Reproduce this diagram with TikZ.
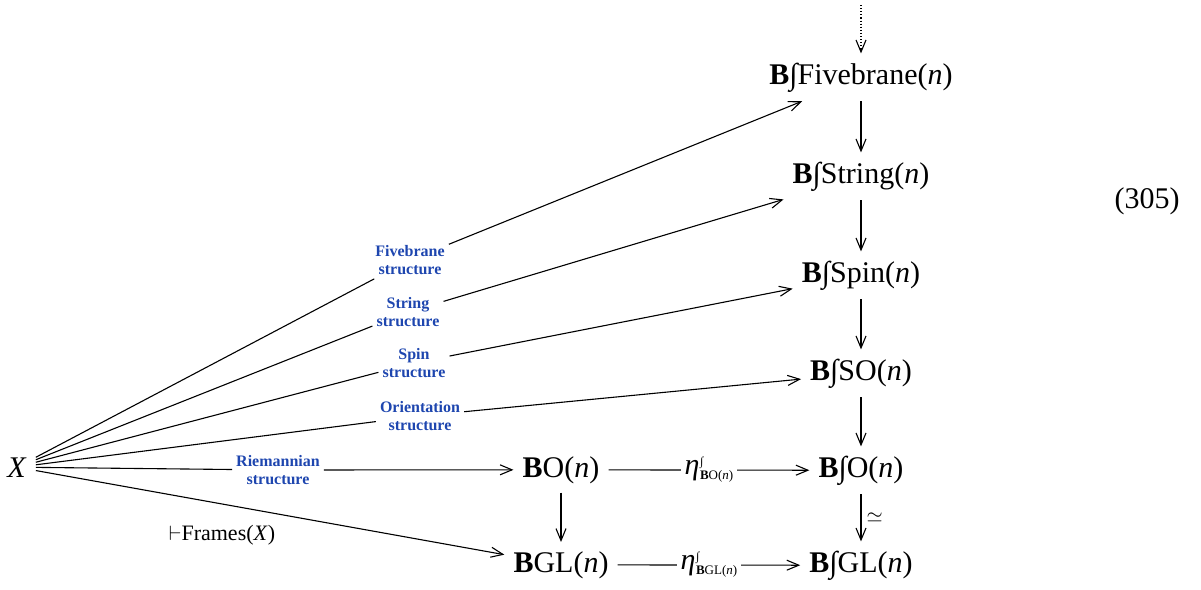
\documentclass[tikz,border=0pt]{standalone}
\usepackage{fontspec}
\setmainfont{Liberation Serif}
\usetikzlibrary{arrows.meta}
\definecolor{labblue}{RGB}{30,70,175}
\newcommand{\Bint}{\textbf{B}∫}
\newcommand{\etalab}[1]{{\fontsize{30}{34}\selectfont\textit{η}}\kern0.5pt\makebox[0pt][l]{\raisebox{9pt}{\fontsize{12}{14}\selectfont ∫}}\raisebox{-5pt}{\fontsize{13}{15}\selectfont #1}}
\tikzset{
  obj/.style={font=\fontsize{30}{36}\selectfont, inner sep=9pt, anchor=base},
  lab/.style={font=\fontsize{16}{18}\selectfont\bfseries, text=labblue, align=center, inner sep=4pt},
  arr/.style={-{Straight Barb[length=12pt,width=10pt]}, line width=1.1pt},
  seg/.style={line width=1.1pt},
  desc/.style={fill=white, inner sep=4pt},
  elab/.style={font=\fontsize{22}{26}\selectfont, inner sep=2pt},
}
\begin{document}
\begin{tikzpicture}[x=1pt,y=-1pt]
\useasboundingbox (0,0) rectangle (1201,589);
% objects
\node[obj] (F5) at (861,84) {\Bint Fivebrane(\textit{n})};
\node[obj] (St) at (861,183) {\Bint String(\textit{n})};
\node[obj] (Sp) at (861,282) {\Bint Spin(\textit{n})};
\node[obj] (SO) at (861,380) {\Bint SO(\textit{n})};
\node[obj] (BiO) at (861,477) {\Bint O(\textit{n})};
\node[obj] (BiGL) at (861,572) {\Bint GL(\textit{n})};
\node[obj] (BO) at (561,477) {\textbf{B}O(\textit{n})};
\node[obj] (BGL) at (561,572) {\textbf{B}GL(\textit{n})};
\node[obj] (X) at (17,477) {\textit{X}};
\node[obj, inner sep=0pt] (eq) at (1147,208) {(305)};
% labels
\node[lab] (L5) at (410,260) {Fivebrane\\structure};
\node[lab] (LS) at (408,312) {String\\structure};
\node[lab] (LSp) at (414,363) {Spin\\structure};
\node[lab] (LO) at (420,416) {Orientation\\structure};
\node[lab] (LR) at (278,470) {Riemannian\\structure};
\node[elab] (Fr) at (222,535) {$\vdash$Frames(\textit{X})};
\coordinate (top) at (861,5);
% vertical tower
\draw[arr, dotted] (top) -- (F5);
\draw[arr] (F5) -- (St);
\draw[arr] (St) -- (Sp);
\draw[arr] (Sp) -- (SO);
\draw[arr] (SO) -- (BiO);
\draw[arr] (BiO) -- node[right, font=\fontsize{20}{24}\selectfont, inner sep=5pt] {$\simeq$} (BiGL);
\draw[arr] (BO) -- (BGL);
% horizontal
\draw[arr] (BO) -- node[desc] {\etalab{\textbf{B}O(\textit{n})}} (BiO);
\draw[arr] (BGL) -- node[desc] {\etalab{\textbf{B}GL(\textit{n})}} (BiGL);
% fan from X
\draw[seg] (X) -- (L5);
\draw[arr] (L5) -- (F5);
\draw[seg] (X) -- (LS);
\draw[arr] (LS) -- (St);
\draw[seg] (X) -- (LSp);
\draw[arr] (LSp) -- (Sp);
\draw[seg] (X) -- (LO);
\draw[arr] (LO) -- (SO);
\draw[seg] (X) -- (LR);
\draw[arr] (LR) -- (BO);
\draw[arr] (X) -- (BGL);
\end{tikzpicture}
\end{document}
